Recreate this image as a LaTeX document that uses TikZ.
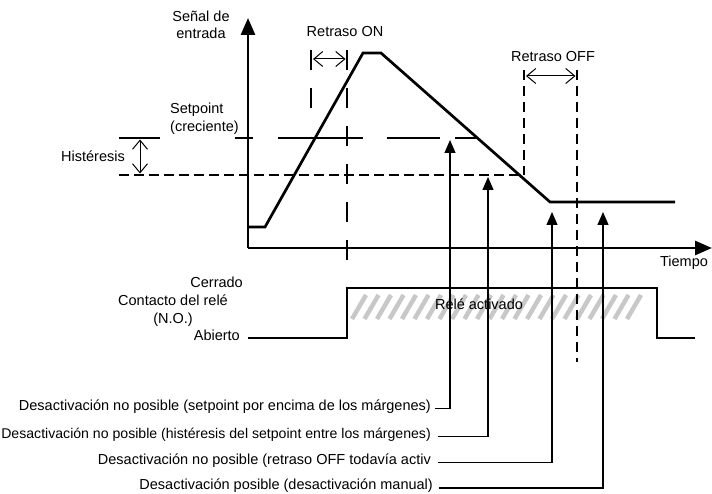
\documentclass[tikz,border=0pt]{standalone}
\usepackage{fontspec}
\setmainfont{Liberation Sans}
\usetikzlibrary{arrows.meta}
\definecolor{hatchgray}{RGB}{200,200,200}
\begin{document}
\begin{tikzpicture}[x=1bp,y=-1bp,
  thickln/.style={line width=2.7bp},
  thinln/.style={line width=1.3bp},
  lbl/.style={font=\fontsize{14.5bp}{17bp}\selectfont, inner sep=0pt},
  vdashA/.style={line width=2.7bp, dash pattern=on 20bp off 18bp},
  vdashB/.style={line width=2.7bp, dash pattern=on 10bp off 6bp},
  hdash/.style={line width=2.7bp, dash pattern=on 10bp off 5bp},
  spanarrow/.style={line width=1bp, {Straight Barb[length=9bp,width=15bp]}-{Straight Barb[length=9bp,width=15bp]}},
  uparrow/.style={thinln, -{Triangle[length=13bp,width=11bp]}},
  axisarrow/.style={thickln, -{Triangle[length=17bp,width=14bp]}},
  hatchln/.style={line width=4.5bp, hatchgray},
]
\useasboundingbox (0,0) rectangle (712,494);

% hatch of relay-on region
\foreach \x in {352,364.5,...,636} \draw[hatchln] (\x,319) -- (\x+14,295);
\node[lbl] (rele) at (479,304) {Relé activado};

% axes
\coordinate (O) at (248,248);
\coordinate (Ytop) at (248,18);
\coordinate (Xend) at (712,248);
\draw[axisarrow] (O) -- (Ytop);
\draw[axisarrow] (O) -- (Xend);

% input signal
\coordinate (s0) at (248,227);
\coordinate (s1) at (265,227);
\coordinate (s2) at (363,53);
\coordinate (s3) at (381,53);
\coordinate (s4) at (550,202);
\coordinate (s5) at (675,202);
\draw[thickln] (s0) -- (s1) -- (s2) -- (s3) -- (s4) -- (s5);

% setpoint and hysteresis
\draw[thickln] (119,138) -- (160,138);
\draw[thickln] (235,138) -- (253,138);
\draw[thickln] (278,138) -- (363,138);
\draw[thickln, dash pattern=on 53bp off 15bp] (387,138) -- (478,138);
\draw[hdash] (119,175) -- (523,175);
\draw[spanarrow] (140,139.5) -- (140,173.5);

% delays
\draw[vdashA] (311,50) -- (311,108);
\draw[vdashA] (347,50) -- (347,260);
\draw[spanarrow] (313,59) -- (345.5,59);
\draw[vdashB] (524,70) -- (524,175);
\draw[vdashB] (577,70) -- (577,362);
\draw[spanarrow] (526,76) -- (575.5,76);

% relay contact
\draw[thickln] (248,338) -- (347,338) -- (347,288) -- (657,288) -- (657,338) -- (695,338);

% labels
\node[lbl, align=center] (senal) at (201,25) {Señal de\\entrada};
\node[lbl, align=left, anchor=west] (setp) at (170,118.5) {Setpoint\\[1.5bp](creciente)};
\node[lbl, anchor=east] (hist) at (125,156) {Histéresis};
\node[lbl] (ron) at (345,32) {Retraso ON};
\node[lbl] (roff) at (553,57) {Retraso OFF};
\node[lbl] (tiempo) at (684,263) {Tiempo};
\node[lbl, anchor=east] (cerr) at (243,282) {Cerrado};
\node[lbl, align=center] (cont) at (173,311) {Contacto del relé\\[1bp](N.O.)};
\node[lbl, anchor=east] (abi) at (240,335) {Abierto};

% explanation arrows
\coordinate (tip1) at (450,140);
\coordinate (tip2) at (488,177);
\coordinate (tip3) at (552,212);
\coordinate (tip4) at (603,212);
\node[lbl, anchor=base east] (d1) at (431,410) {Desactivación no posible (setpoint por encima de los márgenes)};
\node[lbl, anchor=base east, font=\fontsize{14.1bp}{17bp}\selectfont] (d2) at (431,438) {Desactivación no posible (histéresis del setpoint entre los márgenes)};
\node[lbl, anchor=base east] (d3) at (431,464) {Desactivación no posible (retraso OFF todavía activ};
\node[lbl, anchor=base east] (d4) at (433,489.5) {Desactivación posible (desactivación manual)};
\draw[uparrow] ([xshift=4bp,yshift=1.5bp]d1.base east) -| (tip1);
\draw[uparrow] ([xshift=7bp,yshift=1.5bp]d2.base east) -| (tip2);
\draw[uparrow] ([xshift=7bp,yshift=1.5bp]d3.base east) -| (tip3);
\draw[uparrow] ([xshift=6bp,yshift=1.5bp]d4.base east) -| (tip4);
\end{tikzpicture}
\end{document}
